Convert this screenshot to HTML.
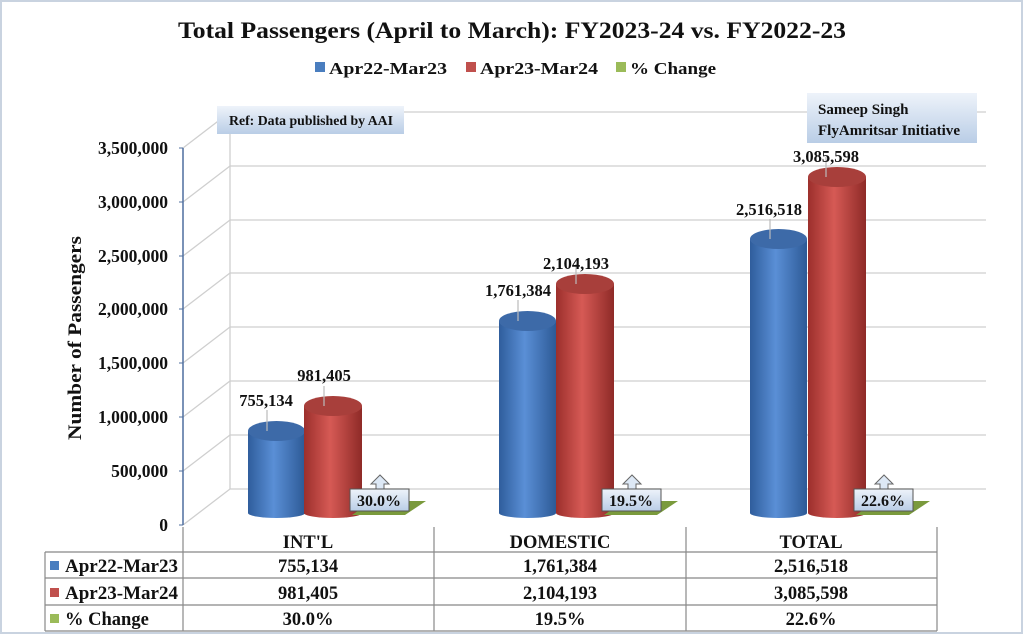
<!DOCTYPE html>
<html><head><meta charset="utf-8"><style>
body{margin:0;background:#fff}
svg{display:block}
text{font-family:"Liberation Serif",serif;font-weight:bold;fill:#111}
</style></head><body>
<svg width="1024" height="636" viewBox="0 0 1024 636" xmlns="http://www.w3.org/2000/svg">
<defs>
<linearGradient id="gb" x1="0" x2="1"><stop offset="0" stop-color="#2f5d9c"/><stop offset="0.45" stop-color="#5a8fd6"/><stop offset="1" stop-color="#2d5a96"/></linearGradient>
<linearGradient id="gr" x1="0" x2="1"><stop offset="0" stop-color="#9c2f2c"/><stop offset="0.45" stop-color="#d65a55"/><stop offset="1" stop-color="#8e2a27"/></linearGradient>
<linearGradient id="bx" x1="0" y1="0" x2="0" y2="1"><stop offset="0" stop-color="#eef3fa"/><stop offset="1" stop-color="#b9cde6"/></linearGradient>
</defs>
<rect x="1" y="1" width="1021" height="632" fill="#fff" stroke="#c9d3e0" stroke-width="2"/>
<text x="178" y="38" font-size="23" textLength="668" lengthAdjust="spacingAndGlyphs">Total Passengers (April to March): FY2023-24 vs. FY2022-23</text>
<rect x="315" y="62" width="10" height="10" fill="#4a7ebf"/><text x="329" y="74" font-size="17" textLength="118" lengthAdjust="spacingAndGlyphs">Apr22-Mar23</text>
<rect x="466" y="62" width="10" height="10" fill="#c0504d"/><text x="480" y="74" font-size="17" textLength="118" lengthAdjust="spacingAndGlyphs">Apr23-Mar24</text>
<rect x="616" y="62" width="10" height="10" fill="#9bbb59"/><text x="630" y="74" font-size="17" textLength="86" lengthAdjust="spacingAndGlyphs">% Change</text>
<g stroke="#cfcfcf" stroke-width="1.3" fill="none">
<path d="M183 525 L230 489 L986 489"/>
<path d="M183 471 L230 435 L986 435"/>
<path d="M183 417 L230 381 L986 381"/>
<path d="M183 363 L230 327 L986 327"/>
<path d="M183 309 L230 273 L986 273"/>
<path d="M183 256 L230 220 L986 220"/>
<path d="M183 202 L230 166 L986 166"/>
<path d="M183 148 L230 112 L986 112"/>
<path d="M230 112 L230 489"/>
</g>
<line x1="183" y1="148" x2="183" y2="525" stroke="#4f6f9f" stroke-width="1.5"/>
<g stroke="#4f6f9f"><line x1="179" y1="148" x2="183" y2="148"/><line x1="179" y1="202" x2="183" y2="202"/><line x1="179" y1="256" x2="183" y2="256"/><line x1="179" y1="309" x2="183" y2="309"/><line x1="179" y1="363" x2="183" y2="363"/><line x1="179" y1="417" x2="183" y2="417"/><line x1="179" y1="471" x2="183" y2="471"/><line x1="179" y1="525" x2="183" y2="525"/></g>
<g font-size="17.5" text-anchor="end">
<text x="168" y="154">3,500,000</text><text x="168" y="208">3,000,000</text><text x="168" y="262">2,500,000</text><text x="168" y="315">2,000,000</text><text x="168" y="369">1,500,000</text><text x="168" y="423">1,000,000</text><text x="168" y="477">500,000</text><text x="168" y="531">0</text>
</g>
<text transform="translate(81 338) rotate(-90)" font-size="19" text-anchor="middle" textLength="204" lengthAdjust="spacingAndGlyphs">Number of Passengers</text>
<rect x="217" y="106" width="187" height="28" fill="url(#bx)"/>
<text x="229" y="125" font-size="13.5" textLength="164" lengthAdjust="spacingAndGlyphs">Ref: Data published by AAI</text>
<rect x="807" y="93" width="170" height="50" fill="url(#bx)"/>
<text x="818" y="114" font-size="15">Sameep Singh</text>
<text x="818" y="135" font-size="15" textLength="142" lengthAdjust="spacingAndGlyphs">FlyAmritsar  Initiative</text>
<path d="M248 431 V513 A28.5 5 0 0 0 305 513 V431 Z" fill="url(#gb)"/><ellipse cx="276.5" cy="431" rx="28.5" ry="10" fill="#3d6aa8"/>
<path d="M304 406 V513 A29 5 0 0 0 362 513 V406 Z" fill="url(#gr)"/><ellipse cx="333" cy="406" rx="29" ry="10" fill="#a83f3b"/>
<path d="M499 321 V513 A28.5 5 0 0 0 556 513 V321 Z" fill="url(#gb)"/><ellipse cx="527.5" cy="321" rx="28.5" ry="10" fill="#3d6aa8"/>
<path d="M556 284 V513 A29 5 0 0 0 614 513 V284 Z" fill="url(#gr)"/><ellipse cx="585" cy="284" rx="29" ry="10" fill="#a83f3b"/>
<path d="M750 239 V513 A28.5 5 0 0 0 807 513 V239 Z" fill="url(#gb)"/><ellipse cx="778.5" cy="239" rx="28.5" ry="10" fill="#3d6aa8"/>
<path d="M808 177 V513 A29 5 0 0 0 866 513 V177 Z" fill="url(#gr)"/><ellipse cx="837" cy="177" rx="29" ry="10" fill="#a83f3b"/>
<g stroke="#bbb" stroke-width="1.2">
<line x1="267" y1="410" x2="267" y2="431"/><line x1="324" y1="386" x2="324" y2="406"/>
<line x1="518" y1="300" x2="518" y2="321"/><line x1="576" y1="264" x2="576" y2="284"/>
<line x1="770" y1="219" x2="770" y2="239"/><line x1="826" y1="157" x2="826" y2="177"/>
</g>
<g font-size="16.5" text-anchor="middle">
<text x="266" y="406">755,134</text><text x="324" y="381">981,405</text>
<text x="518" y="296">1,761,384</text><text x="576" y="269">2,104,193</text>
<text x="769" y="215">2,516,518</text><text x="826" y="162">3,085,598</text>
</g>
<g>
<path d="M352 515 L405 515 L426 501 L372 501 Z" fill="#7a9a3c"/>
<path d="M376 490 V484 H371 L380 475 L389 484 H384 V490 Z" fill="#dde8f5" stroke="#666"/>
<rect x="350" y="489" width="59" height="22" fill="url(#bx)" stroke="#555"/>
<text x="379" y="506" font-size="16" text-anchor="middle">30.0%</text>
<path d="M604 515 L657 515 L678 501 L624 501 Z" fill="#7a9a3c"/>
<path d="M628 490 V484 H623 L632 475 L641 484 H636 V490 Z" fill="#dde8f5" stroke="#666"/>
<rect x="602" y="489" width="59" height="22" fill="url(#bx)" stroke="#555"/>
<text x="631" y="506" font-size="16" text-anchor="middle">19.5%</text>
<path d="M856 515 L909 515 L930 501 L876 501 Z" fill="#7a9a3c"/>
<path d="M880 490 V484 H875 L884 475 L893 484 H888 V490 Z" fill="#dde8f5" stroke="#666"/>
<rect x="854" y="489" width="59" height="22" fill="url(#bx)" stroke="#555"/>
<text x="883" y="506" font-size="16" text-anchor="middle">22.6%</text>
</g>
<g stroke="#888" stroke-width="1.2" fill="none">
<line x1="183" y1="527" x2="183" y2="631"/><line x1="434" y1="527" x2="434" y2="631"/><line x1="686" y1="527" x2="686" y2="631"/><line x1="937" y1="527" x2="937" y2="631"/>
<line x1="45" y1="552" x2="45" y2="631"/>
<line x1="45" y1="552" x2="937" y2="552"/><line x1="45" y1="578" x2="937" y2="578"/><line x1="45" y1="605" x2="937" y2="605"/><line x1="45" y1="631" x2="937" y2="631"/>
</g>
<g font-size="18.5" text-anchor="middle">
<text x="308" y="548">INT'L</text><text x="560" y="548">DOMESTIC</text><text x="811" y="548">TOTAL</text>
<text x="308" y="572">755,134</text><text x="560" y="572">1,761,384</text><text x="811" y="572">2,516,518</text>
<text x="308" y="599">981,405</text><text x="560" y="599">2,104,193</text><text x="811" y="599">3,085,598</text>
<text x="308" y="625">30.0%</text><text x="560" y="625">19.5%</text><text x="811" y="625">22.6%</text>
</g>
<rect x="50" y="561" width="9" height="9" fill="#4a7ebf"/><text x="65" y="572" font-size="18.5" textLength="113" lengthAdjust="spacingAndGlyphs">Apr22-Mar23</text>
<rect x="50" y="588" width="9" height="9" fill="#c0504d"/><text x="65" y="599" font-size="18.5" textLength="113" lengthAdjust="spacingAndGlyphs">Apr23-Mar24</text>
<rect x="50" y="614" width="9" height="9" fill="#9bbb59"/><text x="65" y="625" font-size="18.5">% Change</text>
</svg>
</body></html>
